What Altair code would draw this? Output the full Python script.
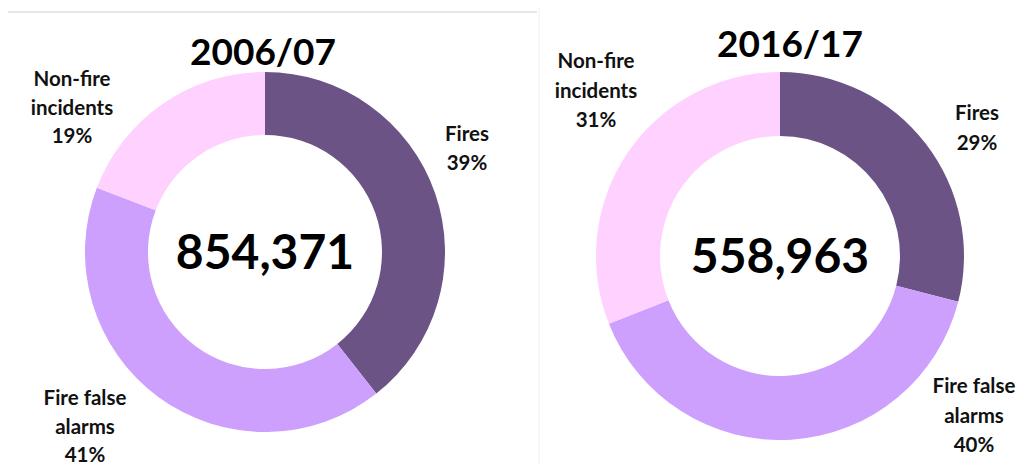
import altair as alt
import pandas as pd

# ---- data ----
years = ["2006/07", "2016/17"]
categories = ["Fires", "Fire false alarms", "Non-fire incidents"]
label_names = ["Fires", "Fire false\nalarms", "Non-fire\nincidents"]
shares_2006 = [39, 41, 19]
shares_2016 = [29, 40, 31]
totals = [854371, 558963]

colors = ["#6B5485", "#CCA0FC", "#FFD1FF"]
FONT = "Lato"

rows = []
for year, shares in zip(years, [shares_2006, shares_2016]):
    for rank, (cat, name, s) in enumerate(zip(categories, label_names, shares)):
        rows.append({"year": year, "category": cat, "rank": rank, "share": s,
                     "label": f"{name}\n{s}%"})
df = pd.DataFrame(rows)
tot_df = pd.DataFrame({"year": years, "total": totals})

# ---- layout (chart pixel coordinates) ----
panels = {
    "2006/07": dict(cx=257, cy=244, r=180, r2=117, tx=255, ty=57, ny=261, lh=28.5,
                    labels={"Fires": (459, 133), "Fire false alarms": (77, 397),
                            "Non-fire incidents": (64, 78)}),
    "2016/17": dict(cx=772, cy=248, r=184, r2=120, tx=782, ty=49, ny=265, lh=29.5,
                    labels={"Fires": (969, 112), "Fire false alarms": (966, 385),
                            "Non-fire incidents": (588, 60)}),
}

scale = alt.Scale(domain=categories, range=colors)


def donut(year):
    p = panels[year]
    sub = alt.Chart(df).transform_filter(alt.datum.year == year)
    parts = [sub.mark_arc(radius=p["r"], radius2=p["r2"]).encode(
        theta=alt.Theta("share:Q", stack=True),
        order=alt.Order("rank:Q"),
        color=alt.Color("category:N", scale=scale, legend=None),
        x=alt.value(p["cx"]), y=alt.value(p["cy"]),
    )]
    for cat in categories:
        lx, ly = p["labels"][cat]
        parts.append(sub.transform_filter(alt.datum.category == cat).mark_text(
            font=FONT, fontWeight="bold", fontSize=20.5, lineBreak="\n",
            lineHeight=p["lh"], align="center", baseline="alphabetic", color="#111111"
        ).encode(text="label:N", x=alt.value(lx), y=alt.value(ly)))
    tsub = alt.Chart(tot_df).transform_filter(alt.datum.year == year)
    parts.append(tsub.mark_text(font=FONT, fontWeight="bold", fontSize=37,
                                align="center", baseline="alphabetic", color="#000000").encode(
        text="year:N", x=alt.value(p["tx"]), y=alt.value(p["ty"])))
    parts.append(tsub.mark_text(font=FONT, fontWeight="bold", fontSize=48,
                                align="center", baseline="alphabetic", color="#000000").encode(
        text=alt.Text("total:Q", format=","), x=alt.value(p["cx"]), y=alt.value(p["ny"])))
    return alt.layer(*parts)


rules = [
    alt.Chart(alt.Data(values=[{}])).mark_rule(color="#d2d2d2", strokeWidth=1.2).encode(
        x=alt.value(0), x2=alt.value(529), y=alt.value(4)),
    alt.Chart(alt.Data(values=[{}])).mark_rule(color="#f0f0f0", strokeWidth=1).encode(
        x=alt.value(531), y=alt.value(0), y2=alt.value(457)),
]

chart = alt.layer(*rules, donut(years[0]), donut(years[1])).resolve_scale(
    theta="independent"
).properties(
    width=1008, height=457, padding=0, autosize="none"
).configure_view(stroke=None)

chart.save("out.html", embed_options={"renderer": "svg", "actions": False})
